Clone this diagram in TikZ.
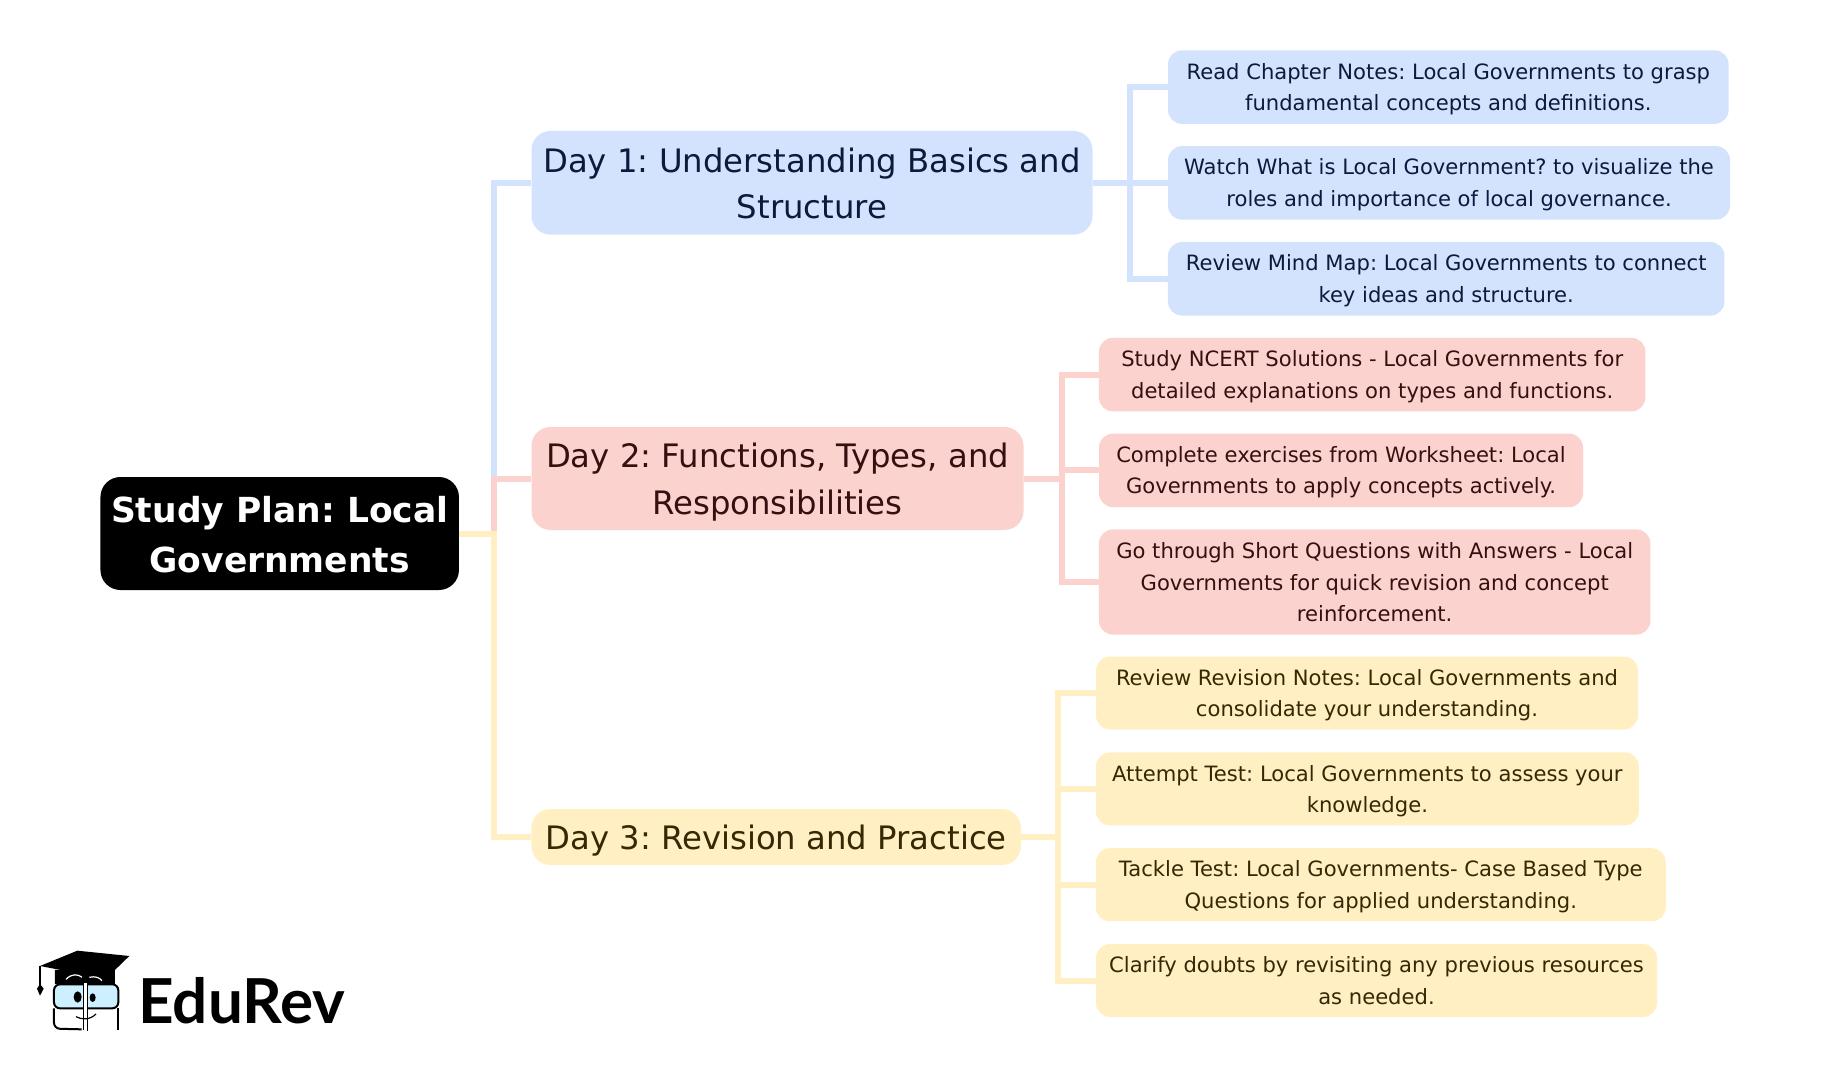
\documentclass[tikz,border=0pt]{standalone}
\usepackage{fontspec}
\setmainfont{DejaVu Sans}
\newfontfamily\logofont{Lato}
\frenchspacing
\definecolor{blueFill}{HTML}{D3E3FD}
\definecolor{blueText}{HTML}{0B1A3D}
\definecolor{pinkFill}{HTML}{FBD2CE}
\definecolor{pinkText}{HTML}{361010}
\definecolor{yellowFill}{HTML}{FFEFC2}
\definecolor{yellowText}{HTML}{352805}
\tikzset{
  rootbox/.style={fill=black,text=white,rounded corners=20pt,inner sep=0pt,align=center,font=\fontsize{34.5}{50.3}\selectfont\bfseries,text depth=0pt,text height=78pt},
  daybox/.style={rounded corners=19pt,inner sep=0pt,align=center,font=\fontsize{32.3}{46.7}\selectfont,text depth=0pt,text height=72pt},
  leafbox/.style={rounded corners=14pt,inner sep=0pt,align=center,font=\fontsize{21.1}{31.4}\selectfont,text depth=0pt,text height=47pt},
  bluebox/.style={fill=blueFill,text=blueText},
  pinkbox/.style={fill=pinkFill,text=pinkText},
  yellowbox/.style={fill=yellowFill,text=yellowText},
  link/.style={line width=6pt,line join=miter}
}
\begin{document}
\begin{tikzpicture}[x=1pt,y=-1pt]
\useasboundingbox (0,0) rectangle (1831,1067);
\coordinate (trunk) at (493.5,0);
\coordinate (busA) at (1130,0);
\coordinate (busB) at (1061.5,0);
\coordinate (busC) at (1058,0);
\node[rootbox,minimum width=358.5pt,minimum height=113pt] (root) at (279.7,533.5) {Study Plan: Local\\Governments};
\node[daybox,bluebox,minimum width=561pt,minimum height=103.7pt] (dayA) at (812,182.8) {Day 1: Understanding Basics and\\Structure};
\node[daybox,pinkbox,minimum width=492pt,minimum height=103pt] (dayB) at (777.5,478.5) {Day 2: Functions, Types, and\\Responsibilities};
\node[daybox,yellowbox,text height=25.7pt,minimum width=489.5pt,minimum height=56pt] (dayC) at (776.2,837) {Day 3: Revision and Practice};
\node[leafbox,bluebox,minimum width=560.6pt,minimum height=73.6pt] (read) at (1448.3,87.1) {Read Chapter Notes: Local Governments to grasp\\fundamental concepts and definitions.};
\node[leafbox,bluebox,minimum width=562pt,minimum height=73.6pt] (watch) at (1449,182.9) {Watch What is Local Government? to visualize the\\roles and importance of local governance.};
\node[leafbox,bluebox,minimum width=556.5pt,minimum height=73.6pt] (mindmap) at (1446.2,278.8) {Review Mind Map: Local Governments to connect\\key ideas and structure.};
\node[leafbox,pinkbox,minimum width=546.5pt,minimum height=73.6pt] (ncert) at (1372.2,374.6) {Study NCERT Solutions - Local Governments for\\detailed explanations on types and functions.};
\node[leafbox,pinkbox,minimum width=484pt,minimum height=73.6pt] (worksheet) at (1341,470.4) {Complete exercises from Worksheet: Local\\Governments to apply concepts actively.};
\node[leafbox,pinkbox,text height=79pt,minimum width=551.5pt,minimum height=105.2pt] (short) at (1374.7,582) {Go through Short Questions with Answers - Local\\Governments for quick revision and concept\\reinforcement.};
\node[leafbox,yellowbox,minimum width=542pt,minimum height=73pt] (revision) at (1367,693) {Review Revision Notes: Local Governments and\\consolidate your understanding.};
\node[leafbox,yellowbox,minimum width=543pt,minimum height=73pt] (attempt) at (1367.4,788.9) {Attempt Test: Local Governments to assess your\\knowledge.};
\node[leafbox,yellowbox,minimum width=570pt,minimum height=73pt] (tackle) at (1380.8,884.7) {Tackle Test: Local Governments- Case Based Type\\Questions for applied understanding.};
\node[leafbox,yellowbox,minimum width=561pt,minimum height=73pt] (doubts) at (1376.5,980.5) {Clarify doubts by revisiting any previous resources\\as needed.};
% connectors
\draw[link,blueFill] (root.east) -- (root.east -| trunk) |- (dayA.west);
\draw[link,pinkFill] (root.east) -- (root.east -| trunk) |- (dayB.west);
\draw[link,yellowFill] (root.east) -- (root.east -| trunk) |- (dayC.west);
\foreach \n in {read,watch,mindmap}{\draw[link,blueFill] (dayA.east) -- (dayA.east -| busA) |- (\n.west);}
\foreach \n in {ncert,worksheet,short}{\draw[link,pinkFill] (dayB.east) -- (dayB.east -| busB) |- (\n.west);}
\foreach \n in {revision,attempt,tackle,doubts}{\draw[link,yellowFill] (dayC.east) -- (dayC.east -| busC) |- (\n.west);}
% logo
\node[inner sep=0pt,anchor=west,font=\fontsize{62}{62}\selectfont\logofont\bfseries] (brand) at (138,1001) {EduRev};
\begin{scope}[shift={(0,920)},x=0.3333pt,y=-0.3333pt]
\fill (120,138) -- (232,92) -- (388,108) -- (318,176) -- cycle;
\fill (165,150) -- (345,140) -- (345,192) -- (165,192) -- cycle;
\draw[white,line width=1.2pt] (198,178) .. controls (215,160) and (235,162) .. (246,172);
\draw[white,line width=1.2pt] (268,172) .. controls (285,168) and (298,172) .. (306,182);
\draw[line width=1.2pt] (120,138) -- (120,195);
\fill (120,192) -- (131,206) -- (120,227) -- (111,206) -- cycle;
\draw[line width=2pt,fill=blue!30!cyan!20,rounded corners=6pt] (162,193) rectangle (355,265);
\draw[line width=2pt,rounded corners=6pt] (162,265) -- (162,326) -- (245,328);
\draw[line width=2pt,rounded corners=6pt] (355,265) -- (355,330);
\fill[white] (250,190) rectangle (262,330);
\draw[line width=1.5pt] (250,188) -- (250,330);
\draw[line width=1.5pt] (262,188) -- (262,332);
\fill (233,231) ellipse[x radius=12,y radius=17];
\fill (278,233) ellipse[x radius=9,y radius=13];
\draw[line width=1.2pt] (228,290) .. controls (245,300) and (270,300) .. (288,282);
\end{scope}
\end{tikzpicture}
\end{document}
